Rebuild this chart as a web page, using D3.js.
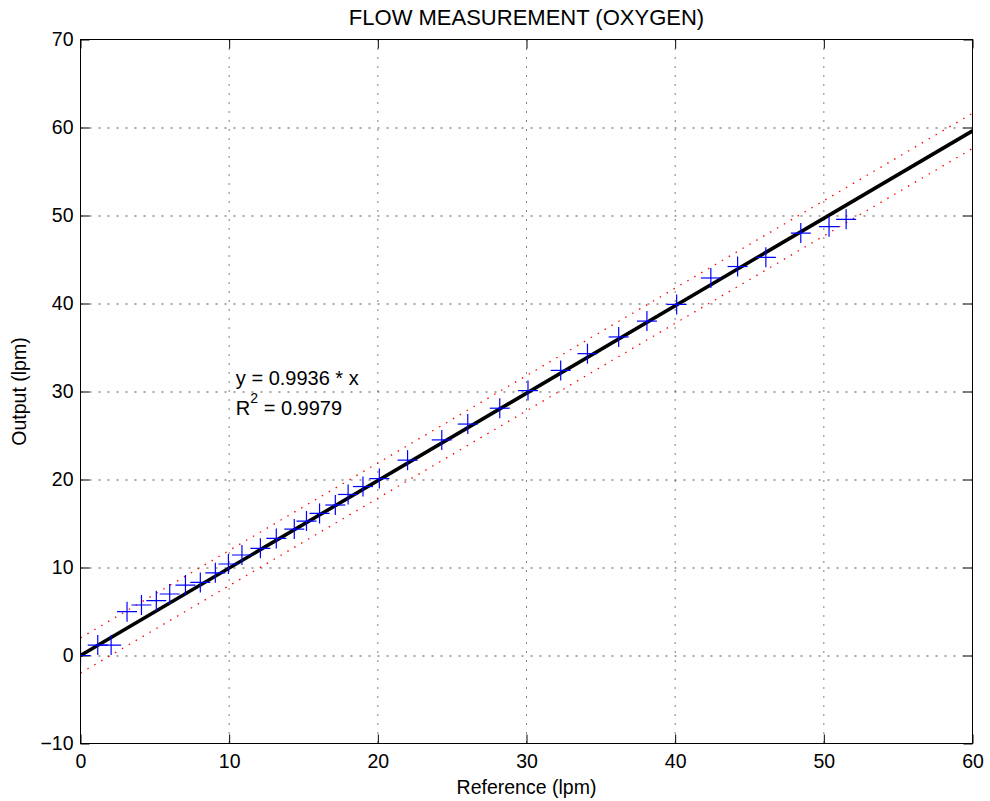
<!DOCTYPE html>
<html>
<head>
<meta charset="utf-8">
<script src="https://cdn.jsdelivr.net/npm/d3@7"></script>
<style>
  html, body { margin: 0; padding: 0; background: #fff; }
  svg { display: block; font-family: "Liberation Sans", Arial, Helvetica, sans-serif; }
</style>
</head>
<body>
<svg id="chart" width="990" height="801"></svg>
<script>
// Measured flow: reference meter reading vs. device output (lpm)
const reference = [0, 1.16, 2.06, 3.13, 4.1, 5.1, 6.0, 7.06, 8.06, 9.07, 9.95, 10.86, 12.1, 13.17,
  14.38, 15.2, 16.08, 17.14, 18.0, 19.0, 20.1, 22.0, 24.3, 26.05, 28.2, 30.1, 32.3, 34.1, 36.2,
  38.1, 40.1, 42.4, 44.2, 46.1, 48.45, 50.35, 51.5];
const output = [0, 1.19, 1.19, 4.98, 5.74, 6.23, 6.99, 8.0, 8.3, 9.4, 10.4, 11.42, 12.18, 13.3,
  14.37, 15.28, 16.15, 17.1, 18.3, 19.2, 20.1, 22.2, 24.5, 26.3, 28.1, 30.1, 32.4, 34.3, 36.2,
  38.0, 39.9, 42.9, 44.2, 45.25, 48.0, 48.73, 49.57];

// Least-squares fit through the origin and its confidence band
const fitSlope = 0.9936;
const fitR2 = 0.9979;
const bandHalfWidth = 2.0;
const fitRange = [0, 60];

// Axis ticks
const xTicks = [0, 10, 20, 30, 40, 50, 60];
const yTicks = [-10, 0, 10, 20, 30, 40, 50, 60, 70];

(function draw() {
  const svg = d3.select("#chart");
  const pL = 80.5, pR = 972.5, pT = 39.5, pB = 743.5;

  const x = d3.scaleLinear().domain([0, 60]).range([pL, pR]);
  const y = d3.scaleLinear().domain([-10, 70]).range([pB, pT]);

  svg.append("defs").append("clipPath").attr("id", "plotClip")
    .append("rect").attr("x", pL).attr("y", pT)
    .attr("width", pR - pL).attr("height", pB - pT);

  // Grid
  const grid = svg.append("g");
  grid.selectAll("line.h").data(yTicks.slice(1, -1)).join("line")
    .attr("x1", pL).attr("x2", pR)
    .attr("y1", d => Math.round(y(d))).attr("y2", d => Math.round(y(d)))
    .attr("stroke", "#a8a8a8").attr("stroke-width", 2)
    .attr("stroke-dasharray", "2,7");
  grid.selectAll("line.v").data(xTicks.slice(1, -1)).join("line")
    .attr("x1", d => x(d)).attr("x2", d => x(d))
    .attr("y1", pT).attr("y2", pB)
    .attr("stroke", "#000").attr("stroke-width", 1)
    .attr("stroke-dasharray", "1,8");

  // Axes with inward ticks on all four sides
  const fmt = d3.format("d");
  const axL = svg.append("g").attr("transform", `translate(${pL},0)`)
    .call(d3.axisLeft(y).tickValues(yTicks).tickSize(-9).tickPadding(7).tickFormat(fmt));
  const axR = svg.append("g").attr("transform", `translate(${pR},0)`)
    .call(d3.axisRight(y).tickValues(yTicks).tickSize(-9).tickFormat(""));
  const axB = svg.append("g").attr("transform", `translate(0,${pB})`)
    .call(d3.axisBottom(x).tickValues(xTicks).tickSize(-9).tickPadding(11).tickFormat(fmt));
  const axT = svg.append("g").attr("transform", `translate(0,${pT})`)
    .call(d3.axisTop(x).tickValues(xTicks).tickSize(-9).tickFormat(""));
  [axL, axR, axB, axT].forEach(a => {
    a.select(".domain").remove();
    a.selectAll(".tick line").attr("stroke", "#000");
    a.selectAll("text").attr("fill", "#000").attr("font-size", 19.5)
      .attr("font-family", "Liberation Sans, Arial, sans-serif");
  });

  // Confidence band (red dotted)
  const plot = svg.append("g").attr("clip-path", "url(#plotClip)");
  const lineGen = d3.line().x(d => x(d[0])).y(d => y(d[1]));
  [bandHalfWidth, -bandHalfWidth].forEach(off => {
    plot.append("path")
      .datum(fitRange.map(v => [v, fitSlope * v + off]))
      .attr("d", lineGen).attr("fill", "none")
      .attr("stroke", "#ff0000").attr("stroke-width", 1.3)
      .attr("stroke-dasharray", "1.5,6.5");
  });

  // Fitted line
  plot.append("path")
    .datum(fitRange.map(v => [v, fitSlope * v]))
    .attr("d", lineGen).attr("fill", "none")
    .attr("stroke", "#000").attr("stroke-width", 3.6);

  // Measurements as '+' markers
  const arm = 10;
  const pts = plot.selectAll("g.pt").data(reference.map((r, i) => [r, output[i]])).join("g")
    .attr("transform", d => `translate(${x(d[0])},${y(d[1])})`);
  pts.append("line").attr("x1", -arm).attr("x2", arm).attr("y1", 0).attr("y2", 0);
  pts.append("line").attr("x1", 0).attr("x2", 0).attr("y1", -arm).attr("y2", arm);
  pts.selectAll("line").attr("stroke", "#0000ff").attr("stroke-width", 1.2);

  // Plot box
  svg.append("rect").attr("x", pL).attr("y", pT)
    .attr("width", pR - pL).attr("height", pB - pT)
    .attr("fill", "none").attr("stroke", "#000").attr("stroke-width", 1);

  // Fit annotation
  const ann = svg.append("g").attr("font-size", 20).attr("fill", "#000");
  ann.append("text").attr("x", x(10.45)).attr("y", 385)
    .text(`y = ${fitSlope.toFixed(4)} * x`);
  const r2 = ann.append("text").attr("x", x(10.45)).attr("y", 415);
  r2.append("tspan").text("R");
  r2.append("tspan").attr("dy", -12).attr("font-size", 14).text("2");
  r2.append("tspan").attr("dy", 12).text(` = ${fitR2.toFixed(4)}`);

  // Titles
  svg.append("text").attr("x", (pL + pR) / 2).attr("y", 25)
    .attr("text-anchor", "middle").attr("font-size", 22)
    .text("FLOW MEASUREMENT (OXYGEN)");
  svg.append("text").attr("x", (pL + pR) / 2).attr("y", 794)
    .attr("text-anchor", "middle").attr("font-size", 19.5).text("Reference (lpm)");
  svg.append("text").attr("transform", `translate(26,${(pT + pB) / 2}) rotate(-90)`)
    .attr("text-anchor", "middle").attr("font-size", 19.5).text("Output (lpm)");
})();
</script>
</body>
</html>
